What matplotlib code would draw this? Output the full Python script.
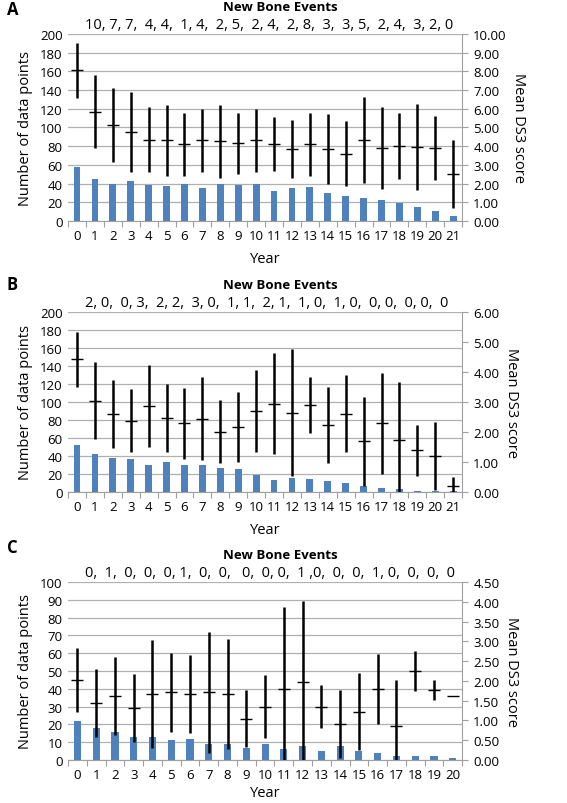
import numpy as np
import matplotlib
matplotlib.use("Agg")
import matplotlib.pyplot as plt

plt.rcParams['font.family'] = ['Open Sans', 'DejaVu Sans']

# panel A
years_a = list(range(22))
counts_a = [58, 45, 40, 43, 38, 37, 39, 35, 39, 38, 40, 32, 35, 36, 30, 27, 24, 22, 19, 15, 11, 5]
mean_a = [8.05, 5.85, 5.15, 4.75, 4.35, 4.30, 4.10, 4.30, 4.25, 4.15, 4.30, 4.10, 3.85, 4.10, 3.85, 3.60,
          4.35, 3.90, 4.00, 3.95, 3.90, 2.50]
sd_a = [1.48, 1.93, 1.98, 2.15, 1.75, 1.88, 1.68, 1.70, 1.93, 1.63, 1.70, 1.45, 1.55, 1.68, 1.88, 1.75,
        2.30, 2.18, 1.78, 2.28, 1.73, 1.80]
events_a = "10, 7, 7,  4, 4,  1, 4,  2, 5,  2, 4,  2, 8,  3,  3, 5,  2, 4,  3, 2, 0"

# panel B
years_b = list(range(22))
counts_b = [52, 42, 38, 37, 30, 33, 30, 30, 26, 25, 19, 13, 15, 14, 12, 10, 6, 4, 3, 1, 1, 1]
mean_b = [4.41, 3.03, 2.58, 2.37, 2.85, 2.46, 2.28, 2.43, 2.01, 2.16, 2.70, 2.94, 2.64, 2.88, 2.22, 2.61,
          1.68, 2.28, 1.74, 1.38, 1.20, 0.21]
sd_b = [0.93, 1.28, 1.13, 1.04, 1.37, 1.14, 1.19, 1.38, 1.05, 1.17, 1.37, 1.67, 2.12, 0.93, 1.26, 1.29,
        1.47, 1.68, 1.92, 0.86, 1.14, 0.27]
events_b = "2, 0,  0, 3,  2, 2,  3, 0,  1, 1,  2, 1,  1, 0,  1, 0,  0, 0,  0, 0,  0"

# panel C
years_c = list(range(21))
counts_c = [22, 18, 16, 13, 13, 11, 12, 9, 9, 7, 9, 6, 8, 5, 8, 5, 4, 2, 2, 2, 1]
mean_c = [2.03, 1.44, 1.62, 1.31, 1.67, 1.71, 1.67, 1.71, 1.67, 1.04, 1.35, 1.80, 1.98, 1.35, 0.90, 1.22,
          1.80, 0.86, 2.25, 1.76, 1.62]
sd_c = [0.81, 0.86, 0.99, 0.86, 1.37, 0.99, 0.99, 1.53, 1.40, 0.72, 0.79, 2.07, 2.03, 0.54, 0.86, 0.97,
        0.88, 1.17, 0.50, 0.25, 0.0]
events_c = "0,  1,  0,  0,  0, 1,  0,  0,   0,  0, 0,  1 ,0,  0,  0,  1, 0,  0,  0,  0"

# letter, data..., left max/step, right max/step, axes bottom, height, letter offset, xlabel pad
panels = [
    ("A", years_a, counts_a, mean_a, sd_a, events_a, 200, 20, 10.0, 1.0, 0.724, 0.2326, 0.031, 6),
    ("B", years_b, counts_b, mean_b, sd_b, events_b, 200, 20, 6.0, 1.0, 0.387, 0.224, 0.035, 6),
    ("C", years_c, counts_c, mean_c, sd_c, events_c, 100, 10, 4.5, 0.5, 0.0535, 0.2214, 0.043, 3),
]

fig = plt.figure(figsize=(5.67, 8.04), dpi=100)
blue = "#4F81BD"
grey = "#A0A0A0"

for letter, yrs, cnt, mn, sd, ev, lmax, lstep, rmax, rstep, bot, h, loff, xpad in panels:
    ax = fig.add_axes([0.12, bot, 0.695, h])
    n = len(yrs)
    x = np.arange(n)
    ax.bar(x, cnt, width=0.38, color=blue, zorder=2)
    ax.set_xlim(-0.5, n - 0.5)
    ax.set_ylim(0, lmax)
    ax.set_yticks(np.arange(0, lmax + 1, lstep))
    ax.yaxis.grid(True, color="#B0B0B0", lw=0.9)
    ax.set_axisbelow(True)
    ax.set_xticks(np.arange(-0.5, n, 1.0))
    ax.set_xticklabels([])
    ax.set_xticks(x, minor=True)
    ax.set_xticklabels([str(y) for y in yrs], minor=True)
    ax.tick_params(axis='x', which='major', length=4, color=grey, direction='out')
    ax.tick_params(axis='x', which='minor', length=0, labelsize=9.5, pad=6)
    ax.tick_params(axis='y', length=0, labelsize=9.5, pad=4)
    for s in ['top', 'right', 'left']:
        ax.spines[s].set_visible(False)
    ax.spines['bottom'].set_color(grey)
    ax.set_ylabel("Number of data points", fontsize=10.5, labelpad=5)
    ax.set_xlabel("Year", fontsize=10.5, labelpad=xpad)

    ax2 = ax.twinx()
    ax2.set_ylim(0, rmax)
    ax2.set_yticks(np.arange(0, rmax + 0.001, rstep))
    ax2.yaxis.set_major_formatter(matplotlib.ticker.FormatStrFormatter("%.2f"))
    ax2.tick_params(axis='y', length=4, color=grey, labelsize=9.5, pad=4)
    for s in ['top', 'left', 'bottom']:
        ax2.spines[s].set_visible(False)
    ax2.spines['right'].set_color(grey)
    ax2.errorbar(x, mn, yerr=sd, fmt='_', color='black', ecolor='black', elinewidth=1.8,
                 markersize=8, markeredgewidth=1.0, capsize=0, zorder=3)
    ax2.set_ylabel("Mean DS3 score", fontsize=10.5, rotation=270, labelpad=14)

    fig.text(0.495, bot + h + 0.034, "New Bone Events", fontsize=9.5, fontweight='bold', ha='center', va='center')
    fig.text(0.15, bot + h + 0.012, ev, fontsize=10.5, ha='left', va='center')
    fig.text(0.012, bot + h + loff, letter, fontsize=12, fontweight='bold', ha='left', va='center')

fig.savefig("out.png", dpi=100)
